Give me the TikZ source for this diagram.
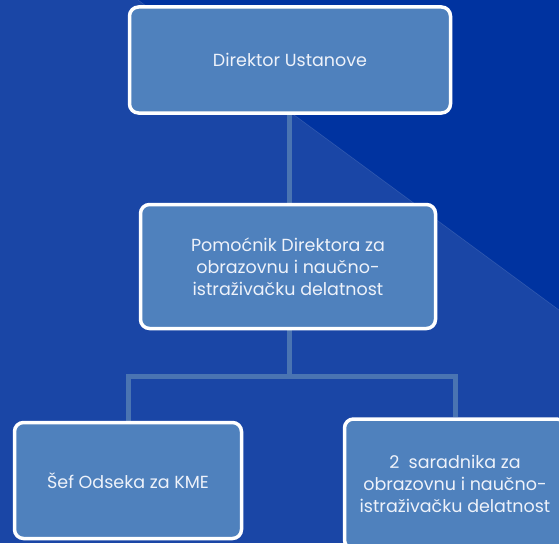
\documentclass[tikz,border=0pt]{standalone}
\usepackage{fontspec}
\setmainfont{Poppins}
\definecolor{bgA}{HTML}{1A46A6}
\definecolor{bgDark}{HTML}{0033A0}
\definecolor{boxfill}{HTML}{4F81BD}
\definecolor{conn}{HTML}{4A74B2}
\definecolor{txt}{HTML}{EEF2FA}
\pgfdeclarelayer{bgfill}
\pgfdeclarelayer{linklayer}
\pgfsetlayers{bgfill,linklayer,main}
\begin{document}
\begin{tikzpicture}[x=1pt,y=-1pt,
  orgbox/.style={draw=white, line width=3.5pt, fill=boxfill, rounded corners=9pt,
    text=txt, align=center, inner sep=0pt, font=\fontsize{17.5}{22}\selectfont},
  link/.style={draw=conn, line width=5pt}]
\useasboundingbox (0,0) rectangle (559,543);
% boxes
\node[orgbox, minimum width=321pt, minimum height=106pt] (dir) at (290,60) {Direktor Ustanove};
\node[orgbox, minimum width=295pt, minimum height=124pt] (pom) at (288,266.5) {Pomoćnik Direktora za\\obrazovnu i naučno-\\istraživačku delatnost};
\node[orgbox, minimum width=227pt, minimum height=116pt] (sef) at (128,480.5) {Šef Odseka za KME};
\node[orgbox, minimum width=221pt, minimum height=130pt] (sar) at (455,484) {2\ \ saradnika za\\obrazovnu i naučno-\\istraživačku delatnost};
\coordinate (hub) at (289,376);
\begin{pgfonlayer}{bgfill}
\fill[bgA] (0,0) rectangle (559,543);
\fill[bgDark] (138,0) -- (559,0) -- (559,310) -- cycle;
\draw[white, opacity=0.15, line width=0.6pt] (138,0) -- (559,310);
\end{pgfonlayer}
\begin{pgfonlayer}{linklayer}
\draw[link] (dir.south -| hub) -- (pom.north -| hub);
\draw[link] (pom.south -| hub) -- (hub);
\draw[link] (sef.north) -- (sef.north |- hub) -- (sar.north |- hub) -- (sar.north);
\end{pgfonlayer}
\end{tikzpicture}
\end{document}
